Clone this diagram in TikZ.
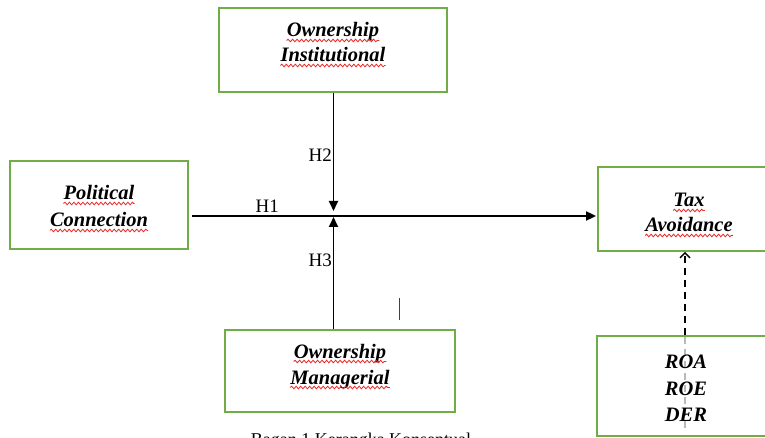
\documentclass[tikz,border=0pt]{standalone}
\usepackage{fontspec}
\setmainfont{Liberation Serif}
\usetikzlibrary{arrows.meta,decorations.pathmorphing}
\definecolor{boxgreen}{RGB}{112,173,71}
\definecolor{spellred}{RGB}{230,40,40}
\tikzset{
  x=1pt,y=-1pt,
  box/.style={draw=boxgreen,line width=1.8pt,rectangle,inner sep=0pt},
  lbl/.style={anchor=base,inner sep=0pt,font=\fontsize{20.5}{24}\selectfont\bfseries\itshape},
  hlab/.style={anchor=base east,inner sep=0pt,font=\fontsize{19}{23}\selectfont},
  arr/.style={line width=1.8pt,-{Triangle[length=10pt,width=9pt]}},
  wavy/.style={draw=spellred,line width=0.8pt,decorate,decoration={snake,amplitude=1.3pt,segment length=4.5pt}},
}
\newcommand{\wav}[1]{\draw[wavy] ([yshift=-3.5pt]#1.base west) -- ([yshift=-3.5pt]#1.base east);}
\begin{document}
\begin{tikzpicture}
\useasboundingbox (0,0) rectangle (765,438);
\clip (0,0) rectangle (765,438);
\fill[white] (0,0) rectangle (765,438);
% boxes
\node[box,minimum width=228pt,minimum height=84pt] (oi) at (333,50) {};
\node[box,minimum width=178pt,minimum height=88pt] (pc) at (99,205) {};
\node[box,minimum width=182pt,minimum height=84pt] (tax) at (689,209) {};
\node[box,minimum width=230pt,minimum height=82pt] (om) at (340,371) {};
\node[box,minimum width=182pt,minimum height=100pt] (roa) at (688,386) {};
% texts
\node[lbl] (oi1) at (333,37) {Ownership};
\node[lbl] (oi2) at (333,62) {Institutional};
\node[lbl] (pc1) at (99,200) {Political};
\node[lbl] (pc2) at (99,227) {Connection};
\node[lbl] (tx1) at (689,207) {Tax};
\node[lbl] (tx2) at (689,232) {Avoidance};
\node[lbl] (om1) at (340,358) {Ownership};
\node[lbl] (om2) at (340,384) {Managerial};
\wav{oi1}\wav{oi2}\wav{pc1}\wav{pc2}\wav{tx1}\wav{tx2}\wav{om1}\wav{om2}
% connectors
\coordinate (mid) at (333.5,216);
\draw[arr,shorten <=3pt,shorten >=1pt] (pc.east |- mid) -- (tax.west |- mid);
\draw[arr,shorten >=5pt] (oi.south -| mid) -- (mid);
\draw[arr,shorten >=1pt] (om.north -| mid) -- (mid);
\coordinate (d0) at (685,428);
\draw[gray!55,line width=1.4pt,dash pattern=on 7pt off 5pt] (d0) -- (roa.north -| d0);
\draw[line width=1.4pt,dash pattern=on 7pt off 5pt,-{Straight Barb[length=5pt,width=10pt]}] (roa.north -| d0) -- (tax.south -| d0);
% ROA texts
\node[lbl] (r1) at (686,368) {ROA};
\node[lbl] (r2) at (686,395) {ROE};
\node[lbl] (r3) at (686,421) {DER};
% H labels
\node[hlab] (h1) at (279,213) {H1};
\node[hlab] (h2) at (332,162) {H2};
\node[hlab] (h3) at (332,266) {H3};
% stray cursor mark
\coordinate (c1) at (399,298);
\coordinate (c2) at (399,320);
\draw[black!75,line width=0.8pt] (c1) -- (c2);
% caption (cut off at the lower edge, as in the reference)
\node[anchor=base,inner sep=0pt,font=\fontsize{18}{22}\selectfont] (cap) at (361,445) {Bagan 1 Kerangka Konseptual};
\end{tikzpicture}
\end{document}
